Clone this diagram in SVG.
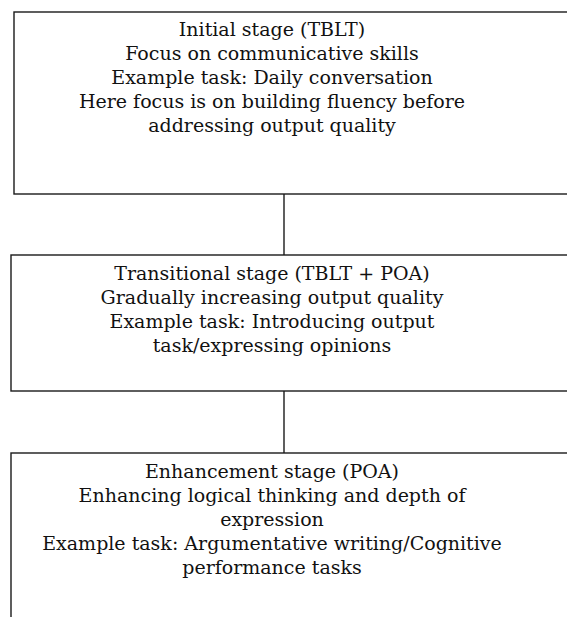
<svg xmlns="http://www.w3.org/2000/svg" width="567" height="617" viewBox="0 0 567 617">
<style>
.box{fill:#fff;stroke:#1a1a1a;stroke-width:1.4}
.t{font-family:"DejaVu Serif",serif;font-size:19px;fill:#111;text-anchor:middle}
.c{stroke:#1a1a1a;stroke-width:1.4;fill:none}
</style>
<rect width="567" height="617" fill="#fff"/>
<g id="connectors">
<line class="c" x1="284" y1="194" x2="284" y2="255"/>
<line class="c" x1="284" y1="391" x2="284" y2="453"/>
</g>
<g id="initial">
<rect class="box" x="14" y="12" width="570" height="182"/>
<text class="t" x="272" y="36">Initial stage (TBLT)</text>
<text class="t" x="272" y="60">Focus on communicative skills</text>
<text class="t" x="272" y="84">Example task: Daily conversation</text>
<text class="t" x="272" y="108">Here focus is on building fluency before</text>
<text class="t" x="272" y="132">addressing output quality</text>
</g>
<g id="transitional">
<rect class="box" x="11" y="255" width="570" height="136"/>
<text class="t" x="272" y="280">Transitional stage (TBLT + POA)</text>
<text class="t" x="272" y="304">Gradually increasing output quality</text>
<text class="t" x="272" y="328">Example task: Introducing output</text>
<text class="t" x="272" y="352">task/expressing opinions</text>
</g>
<g id="enhancement">
<rect class="box" x="11" y="453" width="570" height="180"/>
<text class="t" x="272" y="478">Enhancement stage (POA)</text>
<text class="t" x="272" y="502">Enhancing logical thinking and depth of</text>
<text class="t" x="272" y="526">expression</text>
<text class="t" x="272" y="550">Example task: Argumentative writing/Cognitive</text>
<text class="t" x="272" y="574">performance tasks</text>
</g>
</svg>
